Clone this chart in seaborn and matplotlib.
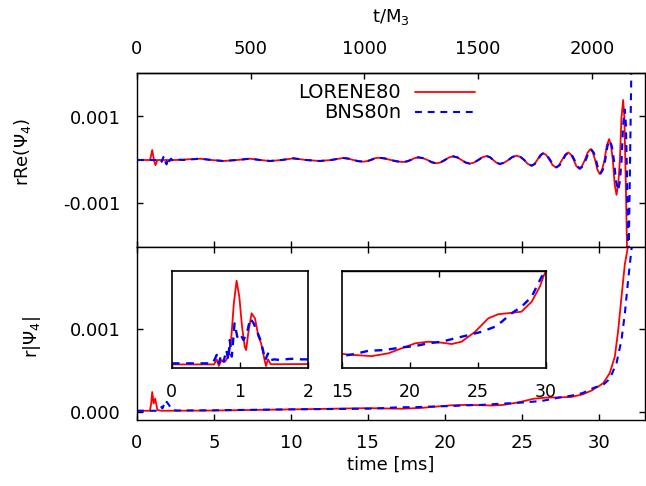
import numpy as np
import pandas as pd
import matplotlib
matplotlib.use("Agg")
import matplotlib.pyplot as plt
import seaborn as sns

# ---------------- data: (time [ms], amplitude in units of 1e-3) ----------------
re_lorene_pts = [
    (0, 0), (0.85, 0), (0.99, 0.23), (1.1, 0.0), (1.2, -0.12), (1.33, 0), (2.5, 0),
    (4.09, 0.03), (4.85, 0), (5.61, -0.023), (6.5, 0), (7.34, 0.03), (8.0, 0), (8.64, -0.023),
    (9.4, 0), (10.15, 0.038), (11.0, 0), (11.88, -0.023), (12.6, 0),
    (13.4, 0.046), (13.725, 0.032), (14.05, 0), (14.375, -0.027),
    (14.7, -0.038), (14.94, -0.027), (15.19, 0), (15.43, 0.037),
    (15.67, 0.053), (16.08, 0.037), (16.48, 0), (16.89, -0.032),
    (17.29, -0.046), (17.54, -0.032), (17.78, 0), (18.03, 0.043),
    (18.27, 0.061), (18.57, 0.043), (18.87, 0), (19.16, -0.053),
    (19.46, -0.076), (19.73, -0.053), (20.0, 0), (20.27, 0.059),
    (20.54, 0.084), (20.81, 0.059), (21.08, 0), (21.35, -0.059),
    (21.62, -0.084), (21.89, -0.059), (22.17, 0), (22.44, 0.064),
    (22.71, 0.091), (22.93, 0.064), (23.14, 0), (23.36, -0.064),
    (23.57, -0.091), (23.84, -0.064), (24.12, 0), (24.39, 0.07),
    (24.66, 0.10), (24.9, 0.07), (25.15, 0), (25.39, -0.091),
    (25.63, -0.13), (25.82, -0.091), (26.0, 0), (26.19, 0.112),
    (26.38, 0.16), (26.59, 0.112), (26.8, 0), (27.0, -0.119),
    (27.21, -0.17), (27.41, -0.119), (27.61, 0), (27.81, 0.123),
    (28.01, 0.175), (28.19, 0.123), (28.37, 0), (28.54, -0.14),
    (28.72, -0.20), (28.91, -0.14), (29.09, 0), (29.28, 0.175),
    (29.46, 0.25), (29.61, 0.175), (29.76, 0), (29.91, -0.224),
    (30.06, -0.32), (30.21, -0.224), (30.37, 0), (30.52, 0.336),
    (30.67, 0.48), (30.79, 0.336), (30.91, 0), (31.03, -0.56),
    (31.15, -0.80), (31.26, -0.56), (31.37, 0), (31.47, 0.97),
    (31.58, 1.38), (31.66, 0.97), (31.72, 0), (31.79, -1.2), (31.85, -2.5),
]

re_bns_pts = [
    (0, 0), (1.4, 0), (1.5, 0.02), (1.6, -0.04), (1.7, 0.06), (1.78, 0.09), (1.85, -0.05),
    (1.92, -0.1), (2.0, 0.05), (2.1, -0.03), (2.2, 0.03), (2.35, -0.02), (2.6, 0.01), (3.0, 0),
    (4.09, 0.03), (4.85, 0), (5.61, -0.023), (6.5, 0), (7.34, 0.03), (8.0, 0), (8.64, -0.023),
    (9.4, 0), (10.15, 0.038), (11.0, 0), (11.88, -0.023), (12.6, 0),
    (13.4, 0.046), (13.725, 0.032), (14.05, 0), (14.375, -0.027),
    (14.7, -0.038), (14.94, -0.027), (15.19, 0), (15.43, 0.037),
    (15.67, 0.053), (16.08, 0.037), (16.48, 0), (16.89, -0.032),
    (17.29, -0.046), (17.54, -0.032), (17.78, 0), (18.03, 0.043),
    (18.27, 0.061), (18.57, 0.043), (18.87, 0), (19.16, -0.053),
    (19.46, -0.076), (19.73, -0.053), (20.0, 0), (20.27, 0.059),
    (20.54, 0.084), (20.81, 0.059), (21.08, 0), (21.35, -0.059),
    (21.62, -0.084), (21.89, -0.059), (22.17, 0), (22.44, 0.064),
    (22.71, 0.091), (22.93, 0.064), (23.14, 0), (23.36, -0.064),
    (23.57, -0.091), (23.84, -0.064), (24.12, 0), (24.39, 0.07),
    (24.66, 0.10), (24.91, 0.07), (25.16, 0), (25.4, -0.091),
    (25.65, -0.13), (25.84, -0.091), (26.04, 0), (26.23, 0.112),
    (26.42, 0.16), (26.63, 0.112), (26.84, 0), (27.05, -0.119),
    (27.26, -0.17), (27.46, -0.119), (27.66, 0), (27.86, 0.123),
    (28.06, 0.175), (28.24, 0.123), (28.42, 0), (28.6, -0.14),
    (28.78, -0.20), (28.97, -0.14), (29.15, 0), (29.34, 0.168),
    (29.52, 0.24), (29.67, 0.168), (29.82, 0), (29.97, -0.217),
    (30.12, -0.31), (30.27, -0.217), (30.42, 0), (30.56, 0.315),
    (30.71, 0.45), (30.85, 0.315), (30.98, 0), (31.12, -0.49),
    (31.26, -0.70), (31.37, -0.49), (31.48, 0), (31.58, 0.81),
    (31.69, 1.16), (31.76, 0.81), (31.81, 0), (31.87, -1.2), (31.93, -2.5), (32.13, 2.5),
]

abs_lorene_pts = [
    (0, 0.012), (0.84, 0.012), (0.92, 0.10), (0.99, 0.24), (1.08, 0.10), (1.18, 0.16),
    (1.33, 0.02), (1.6, 0.012), (5.0, 0.015), (10.4, 0.03), (15.0, 0.044), (15.98, 0.0405),
    (17.2, 0.037), (18.43, 0.046), (19.4, 0.062), (20.4, 0.078), (21.36, 0.083), (22.34, 0.080),
    (23.07, 0.0756), (23.8, 0.083), (24.8, 0.115), (25.77, 0.158), (26.5, 0.171), (27.2, 0.174),
    (28.2, 0.179), (28.95, 0.211), (29.56, 0.26), (29.8, 0.29), (30.0, 0.31), (30.3, 0.35),
    (30.71, 0.47), (31.04, 0.67), (31.26, 0.99), (31.47, 1.39), (31.69, 1.79), (31.86, 1.97),
    (32.0, 2.2),
]

abs_bns_pts = [
    (0, 0.012), (1.4, 0.012), (1.49, 0.03), (1.6, 0.06), (1.65, 0.04), (1.78, 0.10), (1.85, 0.08),
    (1.93, 0.12), (2.05, 0.09), (2.15, 0.06), (2.3, 0.02), (2.6, 0.015), (5.0, 0.018), (10.4, 0.03),
    (15.0, 0.037), (15.98, 0.044), (16.96, 0.054), (18.18, 0.0565), (19.4, 0.065), (20.38, 0.069),
    (21.36, 0.078), (22.34, 0.083), (23.32, 0.094), (24.3, 0.104), (25.28, 0.115), (26.26, 0.131),
    (26.75, 0.147), (27.48, 0.174), (28.21, 0.195), (28.95, 0.227), (29.68, 0.291), (30.0, 0.31),
    (30.3, 0.33), (30.71, 0.40), (31.15, 0.59), (31.47, 0.87), (31.69, 1.19), (31.9, 1.59),
    (32.12, 1.97), (32.3, 2.3),
]

# inset 1: first 2 ms
inset_lorene_pts = [
    (0, 0.0095), (0.62, 0.0095), (0.66, 0.024), (0.69, 0.005), (0.73, 0.022), (0.78, 0.017),
    (0.83, 0.032), (0.87, 0.08), (0.91, 0.186), (0.95, 0.251), (0.99, 0.205), (1.03, 0.118),
    (1.07, 0.06), (1.09, 0.051), (1.12, 0.099), (1.17, 0.157), (1.22, 0.142), (1.27, 0.09),
    (1.31, 0.07), (1.36, 0.022), (1.38, 0.005), (1.41, 0.024), (1.45, 0.01), (2.0, 0.0105),
]
inset_bns_pts = [
    (0, 0.0125), (0.6, 0.0125), (0.66, 0.037), (0.69, 0.0125), (0.72, 0.034), (0.76, 0.017),
    (0.80, 0.051), (0.83, 0.022), (0.85, 0.08), (0.88, 0.032), (0.92, 0.128), (0.96, 0.089),
    (1.0, 0.099), (1.05, 0.08), (1.1, 0.099), (1.15, 0.142), (1.2, 0.128), (1.25, 0.104),
    (1.3, 0.08), (1.33, 0.056), (1.37, 0.022), (1.41, 0.041), (1.45, 0.022), (1.5, 0.024),
    (1.6, 0.022), (1.7, 0.025), (1.8, 0.026), (1.9, 0.024), (2.0, 0.024),
]

series_labels = ["LORENE80", "BNS80n"]
ms_ticks = [0, 5, 10, 15, 20, 25, 30]
M_ticks = [0, 500, 1000, 1500, 2000]
MS_PER_M = 0.014775  # t_M for M = 3 solar masses, in ms

# ---------------- style ----------------
sns.set_theme(style="ticks")
plt.rcParams["font.family"] = ["DejaVu Sans"]
plt.rcParams["mathtext.fontset"] = "dejavusans"
plt.rcParams.update({
    "axes.linewidth": 1.0, "axes.edgecolor": "black",
    "text.color": "black", "axes.labelcolor": "black",
    "xtick.direction": "in", "ytick.direction": "in",
    "xtick.major.size": 4.5, "ytick.major.size": 4.5,
    "xtick.major.width": 1.0, "ytick.major.width": 1.0,
    "xtick.color": "black", "ytick.color": "black",
    "xtick.labelcolor": "black", "ytick.labelcolor": "black",
    "font.size": 13, "xtick.labelsize": 13, "ytick.labelsize": 13,
})

RED = "#ff0000"
BLUE = "#0000ff"
SCALE = 1e-3


def draw(ax, pts, color, dashed, lw):
    df = pd.DataFrame(pts, columns=["t", "v"])
    df["v"] = df["v"] * SCALE
    sns.lineplot(data=df, x="t", y="v", ax=ax, color=color, lw=lw,
                 estimator=None, sort=False, legend=False)
    line = ax.lines[-1]
    if dashed:
        line.set_dashes([3.3, 2.8])
    line.set_solid_joinstyle("round")
    return line


fig = plt.figure(figsize=(6.46, 4.86), dpi=100)
W, H = 646, 486
L = 137 / W
AW = 508 / W
ax_top = fig.add_axes([L, 1 - 247 / H, AW, 174 / H])
ax_bot = fig.add_axes([L, 1 - 420 / H, AW, 173 / H])

# ---- top panel ----
h1 = draw(ax_top, re_lorene_pts, RED, False, 1.3)
h2 = draw(ax_top, re_bns_pts, BLUE, True, 1.5)
ax_top.set_xlim(0, 33)
ax_top.set_ylim(-0.002, 0.002)
ax_top.set_xticks(ms_ticks)
ax_top.tick_params(axis="x", bottom=True, top=False, labelbottom=False)
ax_top.set_yticks([-0.001, 0.001])
ax_top.set_yticklabels(["-0.001", "0.001"])
ax_top.tick_params(axis="y", left=True, right=True, pad=12)
ax_top.set_xlabel("")
ax_top.set_ylabel(r"rRe($\Psi_4$)", fontsize=13)
ax_top.yaxis.set_label_coords(-0.205, 0.546)

sec = ax_top.secondary_xaxis("top", functions=(lambda x: x / MS_PER_M, lambda m: m * MS_PER_M))
sec.set_xticks(M_ticks)
sec.tick_params(axis="x", direction="in", length=4.5, width=1.0, pad=10.5)
sec.set_xlabel(r"t/M$_3$", fontsize=13, labelpad=13)

leg = ax_top.legend([h1, h2], series_labels, loc="upper right",
                    bbox_to_anchor=(0.665, 0.94), frameon=False, markerfirst=False,
                    fontsize=14, handlelength=3.1, handletextpad=0.7,
                    borderpad=0, borderaxespad=0, labelspacing=0.05)

# ---- bottom panel ----
draw(ax_bot, abs_lorene_pts, RED, False, 1.3)
draw(ax_bot, abs_bns_pts, BLUE, True, 1.5)
ax_bot.set_xlim(0, 33)
ax_bot.set_ylim(-0.0001, 0.002)
ax_bot.set_xticks(ms_ticks)
ax_bot.tick_params(axis="x", bottom=True, top=True, labelbottom=True, pad=10)
ax_bot.set_yticks([0, 0.001])
ax_bot.set_yticklabels(["0.000", "0.001"])
ax_bot.tick_params(axis="y", left=True, right=True, pad=12)
ax_bot.set_xlabel("time [ms]", fontsize=13, labelpad=3)
ax_bot.set_ylabel(r"r|$\Psi_4$|", fontsize=13)
ax_bot.yaxis.set_label_coords(-0.185, 0.48)

# ---- insets ----
iy = 1 - 367.7 / H
ih = 97 / H
ax_in1 = fig.add_axes([171.7 / W, iy, 136.6 / W, ih])
draw(ax_in1, inset_lorene_pts, RED, False, 1.3)
draw(ax_in1, inset_bns_pts, BLUE, True, 1.7)
ax_in1.set_xlim(0, 2)
ax_in1.set_ylim(0, 0.00028)
ax_in1.set_xticks([0, 1, 2])
ax_in1.set_yticks([])
ax_in1.tick_params(axis="x", bottom=True, top=False, pad=11, labelsize=12.5)
ax_in1.set_xlabel("")
ax_in1.set_ylabel("")

ax_in2 = fig.add_axes([341.7 / W, iy, 204.3 / W, ih])
draw(ax_in2, abs_lorene_pts, RED, False, 1.3)
draw(ax_in2, abs_bns_pts, BLUE, True, 1.7)
ax_in2.set_xlim(15, 30)
ax_in2.set_ylim(0, 0.00031)
ax_in2.set_xticks([15, 20, 25, 30])
ax_in2.set_yticks([])
ax_in2.tick_params(axis="x", bottom=True, top=False, pad=11, labelsize=12.5)
ax_in2.set_xlabel("")
ax_in2.set_ylabel("")
sec2 = ax_in2.secondary_xaxis("top", functions=(lambda x: x / MS_PER_M, lambda m: m * MS_PER_M))
sec2.set_xticks([1500])
sec2.tick_params(axis="x", direction="in", length=4.5, width=1.0, labeltop=False)

for a in (ax_in1, ax_in2):
    a.set_facecolor("white")
    for s in a.spines.values():
        s.set_linewidth(1.2)

fig.savefig("out.png", dpi=100)
